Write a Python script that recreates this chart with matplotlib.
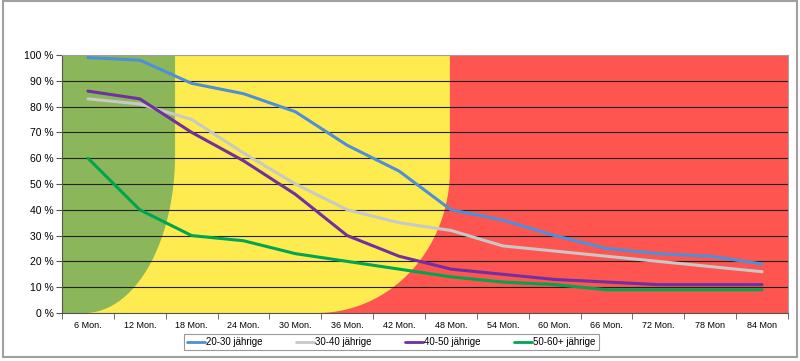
import numpy as np
import matplotlib.pyplot as plt
from matplotlib.patches import Polygon, Rectangle

plt.rcParams['font.family'] = ['Liberation Sans', 'DejaVu Sans']

# Daten
monate = ['6 Mon.', '12 Mon.', '18 Mon.', '24 Mon.', '30 Mon.', '36 Mon.', '42 Mon.',
          '48 Mon.', '54 Mon.', '60 Mon.', '66 Mon.', '72 Mon.', '78 Mon', '84 Mon']
g20_30 = [99, 98, 89, 85, 78, 65, 55, 40, 36, 30, 25, 23, 22, 19]
g30_40 = [83, 81, 75, 62, 50, 40, 35, 32, 26, 24, 22, 20, 18, 16]
g40_50 = [86, 83, 70, 59, 46, 30, 22, 17, 15, 13, 12, 11, 11, 11]
g50_60 = [60, 40, 30, 28, 23, 20, 17, 14, 12, 11, 9, 9, 9, 9]
serien = ['20-30 jährige', '30-40 jährige', '40-50 jährige', '50-60+ jährige']
farben = ['#4f8fd8', '#c8c8c8', '#7030a0', '#00a550']


def zone(x_rechts, cx, cy, ry):
    # Rechteck mit abgerundeter Ecke unten rechts (Viertel-Ellipse)
    rx = x_rechts - cx
    t = np.linspace(0, np.pi / 2, 60)
    arc_x = cx + rx * np.cos(t)
    arc_y = cy - ry * np.sin(t)
    pts = [(-0.5, 0), (-0.5, 100), (x_rechts, 100)]
    pts += list(zip(arc_x, arc_y))
    return pts


fig = plt.figure(figsize=(8, 3.61), dpi=100)
ax = fig.add_axes([0.0775, 0.133, 0.9075, 0.7147])
ax.set_facecolor('#fe5551')

x = np.arange(len(monate))
ax.set_xlim(-0.5, len(monate) - 0.5)
ax.set_ylim(0, 100)

ax.add_patch(Polygon(zone(6.98, 4.42, 55.4, 55.4), closed=True,
                     facecolor='#fdeb50', edgecolor='none', zorder=0))
ax.add_patch(Polygon(zone(1.68, -0.06, 61.2, 61.2), closed=True,
                     facecolor='#8cb65a', edgecolor='none', zorder=0.5))

for v in range(10, 100, 10):
    ax.axhline(v, color='#222222', lw=0.8, zorder=1)

for daten, name, f in zip([g20_30, g30_40, g40_50, g50_60], serien, farben):
    ax.plot(x, daten, color=f, lw=2.2, label=name, zorder=3,
            solid_capstyle='round', solid_joinstyle='round')

ax.set_yticks(range(0, 101, 10))
ax.set_yticklabels(['%d %%' % v for v in range(0, 101, 10)], fontsize=7.5)
ax.set_xticks(x)
ax.set_xticklabels(monate, fontsize=6.5)
ax.set_xticks(np.arange(-0.5, len(monate), 1), minor=True)
ax.tick_params(axis='x', which='major', length=0, pad=6)
ax.tick_params(axis='x', which='minor', length=4, color='#555555', direction='out')
ax.tick_params(axis='y', length=4, color='#555555', pad=2)

for s in ['top', 'right']:
    ax.spines[s].set_color('#a0a0a0')
ax.spines['left'].set_color('#555555')
ax.spines['bottom'].set_color('#555555')

leg = fig.legend(loc='center', bbox_to_anchor=(0.489, 0.0526), ncol=4, fontsize=7,
                 frameon=True, fancybox=False, edgecolor='#808080', handlelength=1.9,
                 handletextpad=0.1, columnspacing=3.4, borderpad=0.3)
leg.get_frame().set_linewidth(0.8)
for h in leg.get_lines():
    h.set_linewidth(2.0)

fig.patches.append(Rectangle((0.004, 0.011), 0.992, 0.985, transform=fig.transFigure,
                             fill=False, edgecolor='#a0a0a0', lw=1.5))

fig.savefig('out.png', dpi=100)
